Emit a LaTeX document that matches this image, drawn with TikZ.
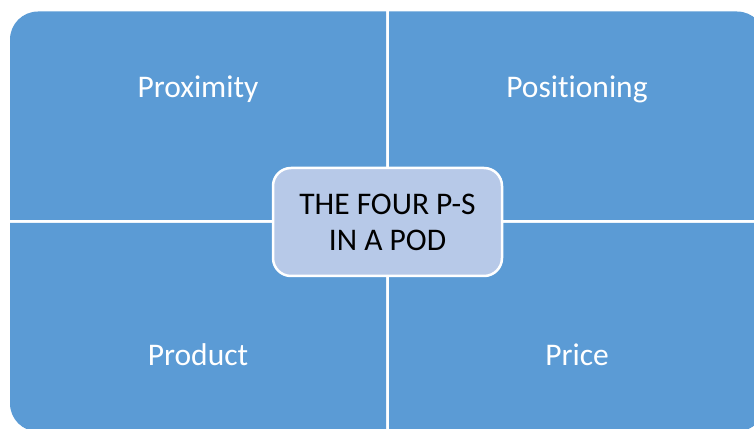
\documentclass[tikz,border=0pt]{standalone}
\usepackage{fontspec}
\setmainfont[Ligatures={CommonOff}]{Carlito}
\usepackage{xcolor}
\definecolor{podblue}{RGB}{91, 155, 213}
\definecolor{podlight}{RGB}{183, 201, 232}

\begin{document}
\begin{tikzpicture}[x=1pt, y=1pt,
    quad/.style={fill=podblue},
    qlabel/.style={text=white, font=\fontsize{31.5}{36}\selectfont},
    podbox/.style={draw=white, line width=2.5pt, fill=podlight, rounded corners=18pt,
        minimum width=229pt, minimum height=108pt, align=center,
        font=\fontsize{31.5}{36}\selectfont}]
                \useasboundingbox (0,0) rectangle (754,428);
                \clip (0,0) rectangle (754,428);
                
                % Top left quadrant
                \fill[quad] (386,208) -- (10,208) -- (10,388.5)
                    arc[start angle=180, end angle=90, radius=28] -- (386,416.5) -- cycle;
                % Top right quadrant
                \fill[quad] (389,208) -- (389,416.5) -- (737,416.5)
                    arc[start angle=90, end angle=0, radius=28] -- (765,208) -- cycle;
                % Bottom left quadrant
                \fill[quad] (386,205) -- (10,205) -- (10,24.5)
                    arc[start angle=180, end angle=270, radius=28] -- (386,-3.5) -- cycle;
                % Bottom right quadrant
                \fill[quad] (389,205) -- (389,-3.5) -- (737,-3.5)
                    arc[start angle=270, end angle=360, radius=28] -- (765,205) -- cycle;
                
                % Quadrant labels
                \node[qlabel] (proximity) at (198,339) {Proximity};
                \node[qlabel] (positioning) at (577,339) {Positioning};
                \node[qlabel] (product) at (198,73) {Product};
                \node[qlabel] (price) at (577,73) {Price};
                
                % Centre box
                \node[podbox] (pod) at (387.5,206) {THE FOUR P-S\\IN A POD};
            \end{tikzpicture}
\end{document}
